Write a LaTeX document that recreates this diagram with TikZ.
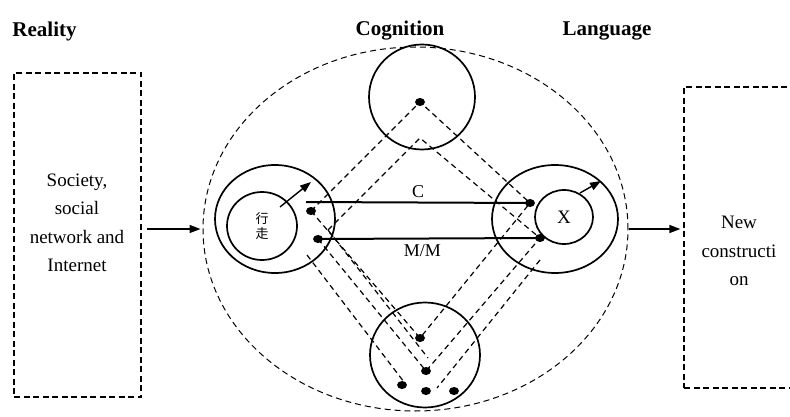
\documentclass[tikz,border=0pt]{standalone}
\usepackage{fontspec}
\setmainfont{Liberation Serif}
\newfontfamily\cjkfont{Noto Sans CJK SC}
\usetikzlibrary{shapes.geometric,arrows.meta}
\begin{document}
\begin{tikzpicture}[x=1pt,y=-1pt,
  boxd/.style={draw, line width=1.3pt, dash pattern=on 6pt off 3.5pt, inner sep=0pt},
  bigd/.style={draw, ellipse, line width=1pt, dash pattern=on 6pt off 4pt, inner sep=0pt},
  circ/.style={draw, ellipse, line width=1.7pt, inner sep=0pt},
  dotn/.style={ellipse, fill=black, minimum width=10pt, minimum height=8pt, inner sep=0pt},
  dl/.style={line width=1.2pt, dash pattern=on 5.5pt off 4pt},
  sl/.style={line width=2pt},
  arr/.style={line width=1.4pt, -{Triangle[length=11pt,width=8pt]}},
  head/.style={font=\fontsize{21}{25}\selectfont\bfseries},
  body/.style={font=\fontsize{19}{28.5}\selectfont, align=center},
]
\useasboundingbox (0,0) rectangle (790,417);
\clip (0,0) rectangle (790,417);

% headings
\node[head] (hreal) at (44.5,31) {Reality};
\node[head] (hcog) at (400,31) {Cognition};
\node[head] (hlang) at (607,31) {Language};

% boxes
\node[boxd, minimum width=127pt, minimum height=324pt] (real) at (77.5,235) {};
\node[body] (realtxt) at (77,223) {Society,\\social\\network and\\Internet};
\node[boxd, minimum width=110pt, minimum height=301pt] (newc) at (739,237.5) {};
\node[body] (newtxt) at (739,251) {New\\constructi\\on};

% big ellipse
\node[bigd, minimum width=425pt, minimum height=364pt] (big) at (415.5,229) {};

% circles
\node[circ, minimum width=106pt, minimum height=105pt] (top) at (422,97) {};
\node[circ, minimum width=110pt, minimum height=105pt] (bot) at (425,355) {};
\node[circ, minimum width=120pt, minimum height=108pt] (lc) at (275,219) {};
\node[circ, minimum width=126pt, minimum height=108pt] (rc) at (555,219) {};
\node[circ, minimum width=70pt, minimum height=68pt, align=center,
  font=\fontsize{13}{15}\selectfont\cjkfont] (lci) at (262,226) {行\\走};
\node[circ, minimum width=58pt, minimum height=54pt,
  font=\fontsize{19}{22}\selectfont] (rci) at (564,217) {X};

% dots
\node[dotn] (dt) at (420,102) {};
\node[dotn] (dul) at (311,211) {};
\node[dotn] (dll) at (318,239) {};
\node[dotn] (dur) at (530,203) {};
\node[dotn] (dlr) at (540,238) {};
\node[dotn] (b1) at (420,338) {};
\node[dotn] (b2) at (426,371) {};
\node[dotn] (b3) at (402,385) {};
\node[dotn] (b4) at (426,391) {};
\node[dotn] (b5) at (454,391) {};

% helper coordinates
\coordinate (t2) at (420,138);
\coordinate (v2) at (328,230);
\coordinate (cs) at (306,202);
\coordinate (lxs) at (307,255);
\coordinate (lxe) at (404,382);
\coordinate (lye) at (428,358);
\coordinate (rxs) at (540,260);
\coordinate (rxe) at (437,388);
\coordinate (la1) at (280,207);
\coordinate (la2) at (311,182);
\coordinate (ra1) at (580,193);
\coordinate (ra2) at (601,181);

% dashed diamonds
\draw[dl] (dul.center) -- (dt.center) -- (dur.center);
\draw[dl] (v2) -- (t2) -- (dlr.center);
\draw[dl] (dul.center) -- (b1.center) -- (dur.center);
\draw[dl] (dll.center) -- (b2.center) -- (dlr.center);
\draw[dl] (v2) -- (lye);
\draw[dl] (lxs) -- (lxe);
\draw[dl] (rxs) -- (rxe);

% solid lines
\draw[sl] (cs) -- (dur.center) node[pos=0.5, above=0pt, font=\fontsize{18}{20}\selectfont] (lc1) {C};
\draw[sl] (dll.center) -- (dlr.center) node[pos=0.47, below=2pt, font=\fontsize{18}{20}\selectfont] (lm) {M/M};

% arrows
\draw[arr] (la1) -- (la2);
\draw[arr] (ra1) -- (ra2);
\path (real.east |- big.west) coordinate (a1s);
\draw[arr, shorten <=5pt, shorten >=2pt] (a1s) -- (big.west);
\path (big.east -| newc.west) coordinate (a2e);
\draw[arr, shorten >=3pt] (big.east) -- (a2e);
\end{tikzpicture}
\end{document}
